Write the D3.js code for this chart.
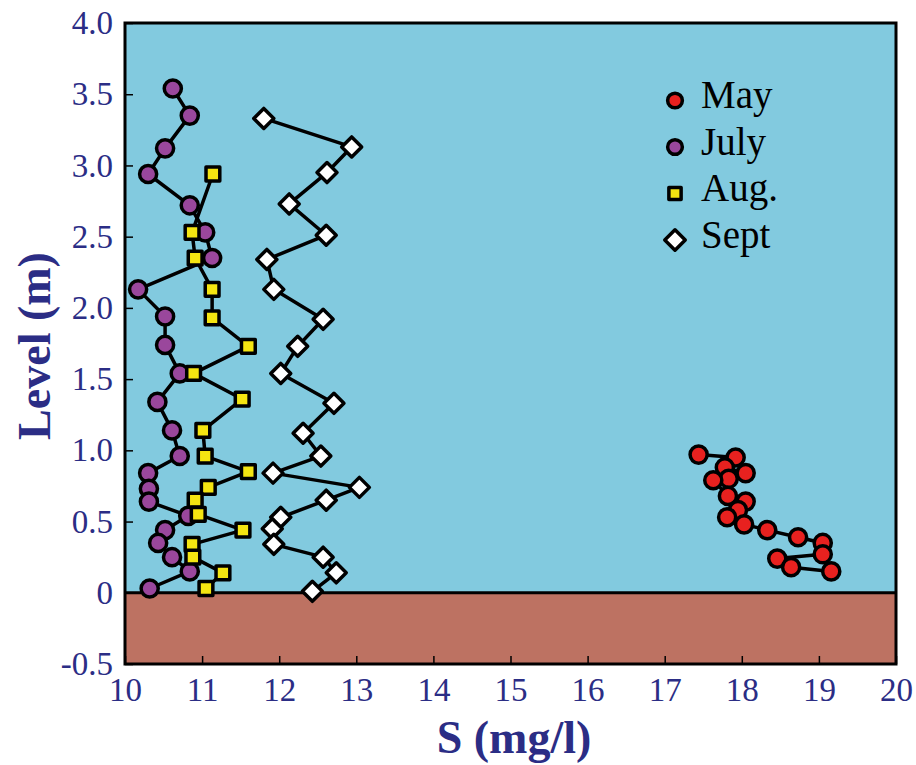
<!DOCTYPE html>
<html>
<head>
<meta charset="utf-8">
<script src="https://cdn.jsdelivr.net/npm/d3@7"></script>
<style>
  body { margin: 0; background: #fff; }
  svg { display: block; }
</style>
</head>
<body>
<svg id="chart" width="916" height="765"></svg>
<script>
// series: [S (mg/l), level (m)]
const may = [
  [17.44, 0.97], [17.92, 0.95], [17.78, 0.88], [18.05, 0.84], [17.83, 0.80],
  [17.63, 0.79], [17.82, 0.68], [18.05, 0.64], [17.95, 0.58], [17.81, 0.53],
  [18.03, 0.48], [18.33, 0.44], [18.73, 0.39], [19.05, 0.35], [19.05, 0.27],
  [18.46, 0.24], [18.64, 0.18], [19.16, 0.15]
];
const july = [
  [10.62, 3.54], [10.84, 3.35], [10.52, 3.12], [10.30, 2.94], [10.84, 2.72],
  [11.04, 2.53], [11.13, 2.35], [10.17, 2.13], [10.52, 1.94], [10.52, 1.74],
  [10.71, 1.54], [10.42, 1.34], [10.61, 1.14], [10.71, 0.96], [10.30, 0.84],
  [10.31, 0.73], [10.31, 0.64], [10.82, 0.54], [10.52, 0.44], [10.43, 0.35],
  [10.61, 0.25], [10.84, 0.15], [10.32, 0.03]
];
const aug = [
  [11.14, 2.94], [10.87, 2.53], [10.91, 2.35], [11.13, 2.13], [11.13, 1.93],
  [11.60, 1.73], [10.89, 1.54], [11.52, 1.36], [11.01, 1.14], [11.04, 0.96],
  [11.60, 0.85], [11.08, 0.74], [10.91, 0.65], [10.95, 0.55], [11.53, 0.44],
  [10.87, 0.34], [10.88, 0.25], [11.27, 0.14], [11.05, 0.03]
];
const sept = [
  [11.80, 3.33], [12.94, 3.13], [12.62, 2.95], [12.13, 2.73], [12.61, 2.51],
  [11.84, 2.34], [11.93, 2.13], [12.57, 1.92], [12.24, 1.73], [12.02, 1.54],
  [12.71, 1.33], [12.31, 1.12], [12.54, 0.96], [11.92, 0.84], [13.04, 0.74],
  [12.61, 0.65], [12.02, 0.53], [11.91, 0.45], [11.93, 0.34], [12.57, 0.25],
  [12.74, 0.14], [12.43, 0.01]
];

const xTicks = [10, 11, 12, 13, 14, 15, 16, 17, 18, 19, 20];
const yTicks = [-0.5, 0, 0.5, 1.0, 1.5, 2.0, 2.5, 3.0, 3.5, 4.0];
const yTickLabels = ["-0.5", "0", "0.5", "1.0", "1.5", "2.0", "2.5", "3.0", "3.5", "4.0"];
const legendNames = ["May", "July", "Aug.", "Sept"];

const plotL = 125, plotR = 896, plotT = 23, plotB = 664;
const textCol = "#2b2d85";
const font = "'Liberation Serif', 'Times New Roman', serif";

const svg = d3.select("#chart");
const x = d3.scaleLinear().domain([10, 20]).range([plotL, plotR]);
const y = d3.scaleLinear().domain([-0.5, 4.0]).range([plotB, plotT]);

// water and soil
svg.append("rect")
  .attr("x", plotL).attr("y", plotT)
  .attr("width", plotR - plotL).attr("height", y(0) - plotT)
  .attr("fill", "#82cadf");
svg.append("rect")
  .attr("x", plotL).attr("y", y(0))
  .attr("width", plotR - plotL).attr("height", plotB - y(0))
  .attr("fill", "#bd7262");
svg.append("line")
  .attr("x1", plotL).attr("x2", plotR)
  .attr("y1", y(0)).attr("y2", y(0))
  .attr("stroke", "#000").attr("stroke-width", 3);

// axes with inward ticks
const yAxis = svg.append("g")
  .attr("transform", `translate(${plotL},0)`)
  .call(d3.axisLeft(y).tickValues(yTicks)
    .tickFormat((d, i) => yTickLabels[i])
    .tickSizeInner(-8).tickSizeOuter(0).tickPadding(12));
const xAxis = svg.append("g")
  .attr("transform", `translate(0,${plotB})`)
  .call(d3.axisBottom(x).tickValues(xTicks).tickFormat(d3.format("d"))
    .tickSizeInner(-8).tickSizeOuter(0).tickPadding(14));

[yAxis, xAxis].forEach(g => {
  g.select(".domain").remove();
  g.selectAll(".tick line").attr("stroke", "#000").attr("stroke-width", 1.5);
  g.selectAll(".tick text")
    .attr("fill", textCol)
    .style("font-family", font)
    .style("font-size", "33px");
});
xAxis.selectAll(".tick text").attr("dy", "0.71em");

// frame
svg.append("rect")
  .attr("x", plotL).attr("y", plotT)
  .attr("width", plotR - plotL).attr("height", plotB - plotT)
  .attr("fill", "none").attr("stroke", "#000").attr("stroke-width", 3);

// axis titles
svg.append("text")
  .attr("x", 514).attr("y", 753)
  .attr("text-anchor", "middle")
  .attr("fill", textCol)
  .style("font-family", font).style("font-weight", "bold").style("font-size", "46px")
  .text("S (mg/l)");
svg.append("text")
  .attr("transform", "translate(50,346) rotate(-90)")
  .attr("text-anchor", "middle")
  .attr("fill", textCol)
  .style("font-family", font).style("font-weight", "bold").style("font-size", "46px")
  .text("Level (m)");

// series
const diamond = {
  draw(ctx, size) {
    const r = Math.sqrt(size / 2);
    ctx.moveTo(0, -r); ctx.lineTo(r, 0); ctx.lineTo(0, r); ctx.lineTo(-r, 0); ctx.closePath();
  }
};
const line = d3.line().x(d => x(d[0])).y(d => y(d[1]));
const series = [
  { data: may, shape: d3.symbolCircle, fill: "#e8211f", size: 230 },
  { data: july, shape: d3.symbolCircle, fill: "#9a479c", size: 230 },
  { data: aug, shape: d3.symbolSquare, fill: "#f4e511", size: 190 },
  { data: sept, shape: diamond, fill: "#ffffff", size: 200 }
];

series.forEach(s => {
  svg.append("path")
    .datum(s.data)
    .attr("d", line)
    .attr("fill", "none")
    .attr("stroke", "#000")
    .attr("stroke-width", 3.5)
    .attr("stroke-linejoin", "round");
});
series.forEach(s => {
  svg.append("g").selectAll("path")
    .data(s.data)
    .join("path")
    .attr("transform", d => `translate(${x(d[0])},${y(d[1])})`)
    .attr("d", d3.symbol().type(s.shape).size(s.size))
    .attr("fill", s.fill)
    .attr("stroke", "#000")
    .attr("stroke-width", 3.5)
    .attr("stroke-linejoin", "round");
});

// legend
const legend = svg.append("g");
const legendSizes = [170, 170, 150, 210];
legendNames.forEach((name, i) => {
  const ly = 100.5 + i * 46.5;
  legend.append("path")
    .attr("transform", `translate(675,${ly})`)
    .attr("d", d3.symbol().type(series[i].shape).size(legendSizes[i]))
    .attr("fill", series[i].fill)
    .attr("stroke", "#000")
    .attr("stroke-width", 3.5)
    .attr("stroke-linejoin", "round");
  legend.append("text")
    .attr("x", 701).attr("y", ly + 7.5)
    .attr("fill", "#000")
    .style("font-family", font).style("font-size", "39px")
    .text(name);
});
</script>
</body>
</html>
